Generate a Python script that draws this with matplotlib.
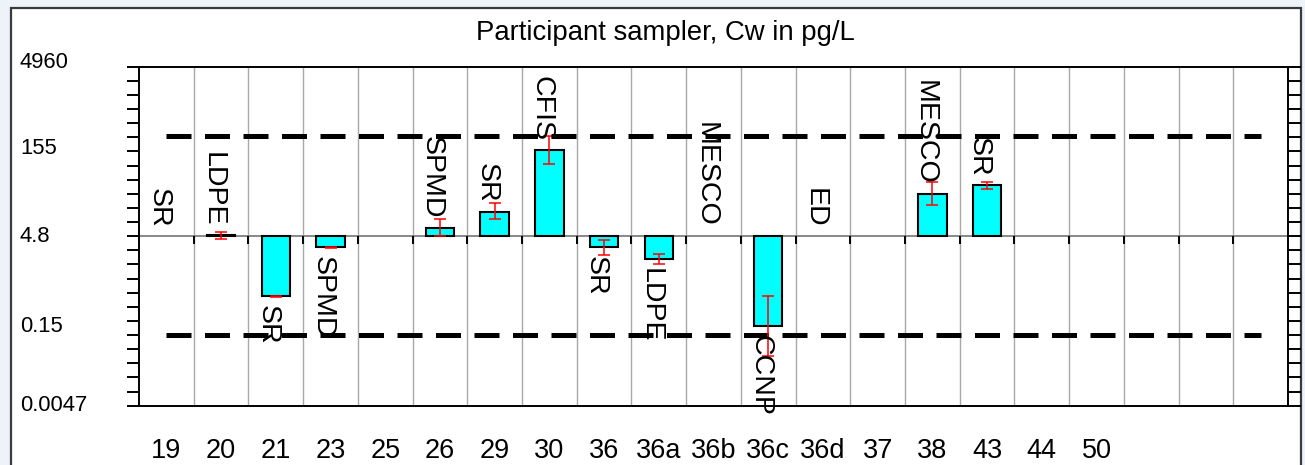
import numpy as np
import matplotlib
matplotlib.use("Agg")
import matplotlib.pyplot as plt
from matplotlib.transforms import blended_transform_factory, offset_copy
from matplotlib.patches import Rectangle

plt.rcParams["font.family"] = ["Liberation Sans", "DejaVu Sans"]

nan = np.nan

# Participant codes (x categories) and the sampler each one used
participants = ["19", "20", "21", "23", "25", "26", "29", "30", "36", "36a",
                "36b", "36c", "36d", "37", "38", "43", "44", "50", "", "", ""]
samplers = ["SR", "LDPE", "SR", "SPMD", "", "SPMD", "SR", "CFIS", "SR", "LDPE",
            "MESCO", "CCNP", "ED", "", "MESCO", "SR", "", "", "", "", ""]

# Reported freely dissolved concentration, pg/L, with lower / upper bounds
cw = [nan, 5.0, 0.412, 3.05, nan, 6.9, 13.0, 162.0, 3.06, 1.9,
      nan, 0.121, nan, nan, 27.2, 38.6, nan, nan, nan, nan, nan]
cw_low = [nan, 4.37, 0.40, 2.95, nan, 4.82, 9.9, 91.2, 2.24, 1.55,
          nan, 0.0365, nan, nan, 17.6, 33.4, nan, nan, nan, nan, nan]
cw_high = [nan, 5.74, 0.42, 3.15, nan, 9.8, 18.8, 287.0, 4.08, 2.34,
           nan, 0.412, nan, nan, 43.7, 43.7, nan, nan, nan, nan, nan]

assigned_value = 4.84      # consensus value, bars start here
upper_limit = 287.0        # acceptance limits (dashed lines)
lower_limit = 0.086
axis_values = [4960, 155, 4.84, 0.151, 0.00473]
axis_labels = ["4960", "155", "4.8", "0.15", "0.0047"]

W, H = 1305, 465
fig = plt.figure(figsize=(W / 100, H / 100), dpi=100)
fig.patch.set_facecolor("#eef3f9")

# white panel with a dark frame, behind the axes
panel = Rectangle((11 / W, -0.02), (1301 - 11) / W, 1.02 - 8 / H,
                  transform=fig.transFigure, facecolor="white",
                  edgecolor="#3a3a3a", linewidth=1.6, zorder=-10)
fig.add_artist(panel)

ax = fig.add_axes([139 / W, 1 - 405.7 / H, (1288 - 139) / W, (405.7 - 66.7) / H])
ax.set_zorder(1)
ax.set_facecolor("none")
ax.set_yscale("log")
n = len(participants)
x = np.arange(n)
ax.set_xlim(-0.5, n - 0.5)
ax.set_ylim(assigned_value / 1024, assigned_value * 1024)

# vertical grid at category boundaries
for b in np.arange(0.5, n - 0.5, 1.0):
    ax.axvline(b, color="#a8a8a8", linewidth=1.0, zorder=1)

# reference line with downward ticks at the boundaries
ax.axhline(assigned_value, color="#7f7f7f", linewidth=1.3, zorder=2)
bounds = np.arange(0.5, n - 0.5, 1.0)
ax.plot(bounds, [assigned_value] * len(bounds), linestyle="none", marker=3,
        markersize=6, markeredgewidth=1.4, color="black", zorder=3)

# acceptance limits
for lim in (upper_limit, lower_limit):
    ax.plot([0, n - 1], [lim, lim], color="black", linewidth=3.6,
            dashes=(5.0, 2.7), solid_capstyle="butt", dash_capstyle="butt",
            zorder=4)

# bars from the assigned value
cw_arr = np.array(cw)
has = ~np.isnan(cw_arr)
ax.bar(x[has], cw_arr[has] - assigned_value, bottom=assigned_value, width=0.52,
       color="#00ffff", edgecolor="black", linewidth=1.5, zorder=5)

lo = np.array(cw_low)
hi = np.array(cw_high)
ax.errorbar(x[has], cw_arr[has],
            yerr=[cw_arr[has] - lo[has], hi[has] - cw_arr[has]],
            fmt="none", ecolor="red", elinewidth=1.1, capsize=4.6,
            capthick=1.1, zorder=6)

# sampler names, rotated, next to the bar end
for i, name in enumerate(samplers):
    if not name:
        continue
    v = cw[i]
    if np.isnan(v) or v >= assigned_value:
        yv = assigned_value if np.isnan(v) else v
        tr = offset_copy(ax.transData, fig=fig, x=-8, y=9, units="dots")
        va = "bottom"
    else:
        yv = v
        tr = offset_copy(ax.transData, fig=fig, x=-8, y=-9, units="dots")
        va = "top"
    ax.text(i, yv, name, rotation=270, ha="center", va=va, fontsize=20.5,
            transform=tr, zorder=7)

# y axis: ticks every 2^(5/6) on both sides, labels at the far left
ticks = assigned_value * 2.0 ** (5.0 * np.arange(-12, 13) / 6.0)
ax.set_yticks(ticks)
ax.yaxis.set_minor_locator(matplotlib.ticker.NullLocator())
ax.set_yticklabels([])
ax.tick_params(axis="y", which="both", direction="out", length=9, width=1.4,
               left=True, right=True, labelleft=False, labelright=False)
label_shift = [4, 2.5, 0, -6, 0]
for v, s, dy in zip(axis_values, axis_labels, label_shift):
    tr = offset_copy(blended_transform_factory(fig.transFigure, ax.transData),
                     fig=fig, x=0, y=dy, units="dots")
    ax.text(20 / W, v, s, transform=tr, ha="left", va="center",
            fontsize=15.8, clip_on=False)

# x axis: participant codes
ax.set_xticks(x)
ax.set_xticklabels(participants, fontsize=19.5)
ax.tick_params(axis="x", length=0, pad=23)

for sp in ax.spines.values():
    sp.set_color("black")
    sp.set_linewidth(1.4)
    sp.set_zorder(8)

fig.text(665 / W, 1 - 33 / H, "Participant sampler, Cw in pg/L",
         ha="center", va="center", fontsize=19.8)

fig.savefig("out.png", dpi=100, facecolor=fig.get_facecolor())
